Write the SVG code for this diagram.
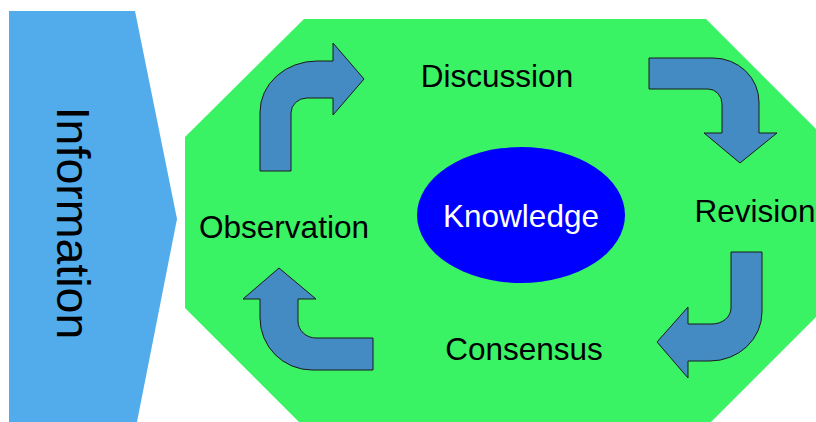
<svg xmlns="http://www.w3.org/2000/svg" width="816" height="422" viewBox="0 0 816 422">
  <style>
    .lbl { font-family: "Liberation Sans", Arial, sans-serif; font-size: 31.5px; fill: #000; text-anchor: middle; }
    .arrow { fill: #438bc2; stroke: #1a1a1a; stroke-width: 1; stroke-linejoin: miter; }
  </style>
  <rect width="816" height="422" fill="#ffffff"/>
  <g id="information">
    <polygon points="9,11 135,11 177,219 136,427 9,427" fill="#52acec"/>
    <text class="lbl" transform="translate(57,223) rotate(90)" style="font-size:46.5px">Information</text>
  </g>
  <g id="cycle">
    <polygon points="304,19 706,19 825,138 825,308 707,426 303,426 185,308 185,137" fill="#3af364"/>
  </g>
  <g id="knowledge">
    <ellipse cx="521" cy="215" rx="104" ry="68" fill="#0000ff"/>
    <text class="lbl" x="521" y="227" style="fill:#ffffff">Knowledge</text>
  </g>
  <g id="discussion"><text class="lbl" x="497" y="87">Discussion</text></g>
  <g id="revision"><text class="lbl" x="755" y="222">Revision</text></g>
  <g id="consensus"><text class="lbl" x="524" y="360">Consensus</text></g>
  <g id="observation"><text class="lbl" x="284" y="238">Observation</text></g>
  <g id="connectors">
    <path class="arrow" d="M260,171 L260,112 A57,51 0 0 1 317,61 L333,61 L333,43 L364,79 L333,115 L333,98 L307,98 A16,15 0 0 0 291,113 L291,171 Z"/>
    <path class="arrow" d="M649,58 L713,58 A46,44 0 0 1 759,102 L759,133 L777,133 L740,163 L704,133 L722,133 L722,104 A14,15 0 0 0 708,89 L649,89 Z"/>
    <path class="arrow" d="M731,252 L762,252 L762,312 A52,49 0 0 1 710,361 L688,361 L688,378 L657,342 L688,307 L688,324 L712,324 A19,16 0 0 0 731,308 Z"/>
    <path class="arrow" d="M373,338 L316,338 A18,17 0 0 1 298,321 L298,299 L316,299 L279,268 L243,299 L260,299 L260,318 A52,52 0 0 0 312,370 L373,370 Z"/>
  </g>
</svg>
